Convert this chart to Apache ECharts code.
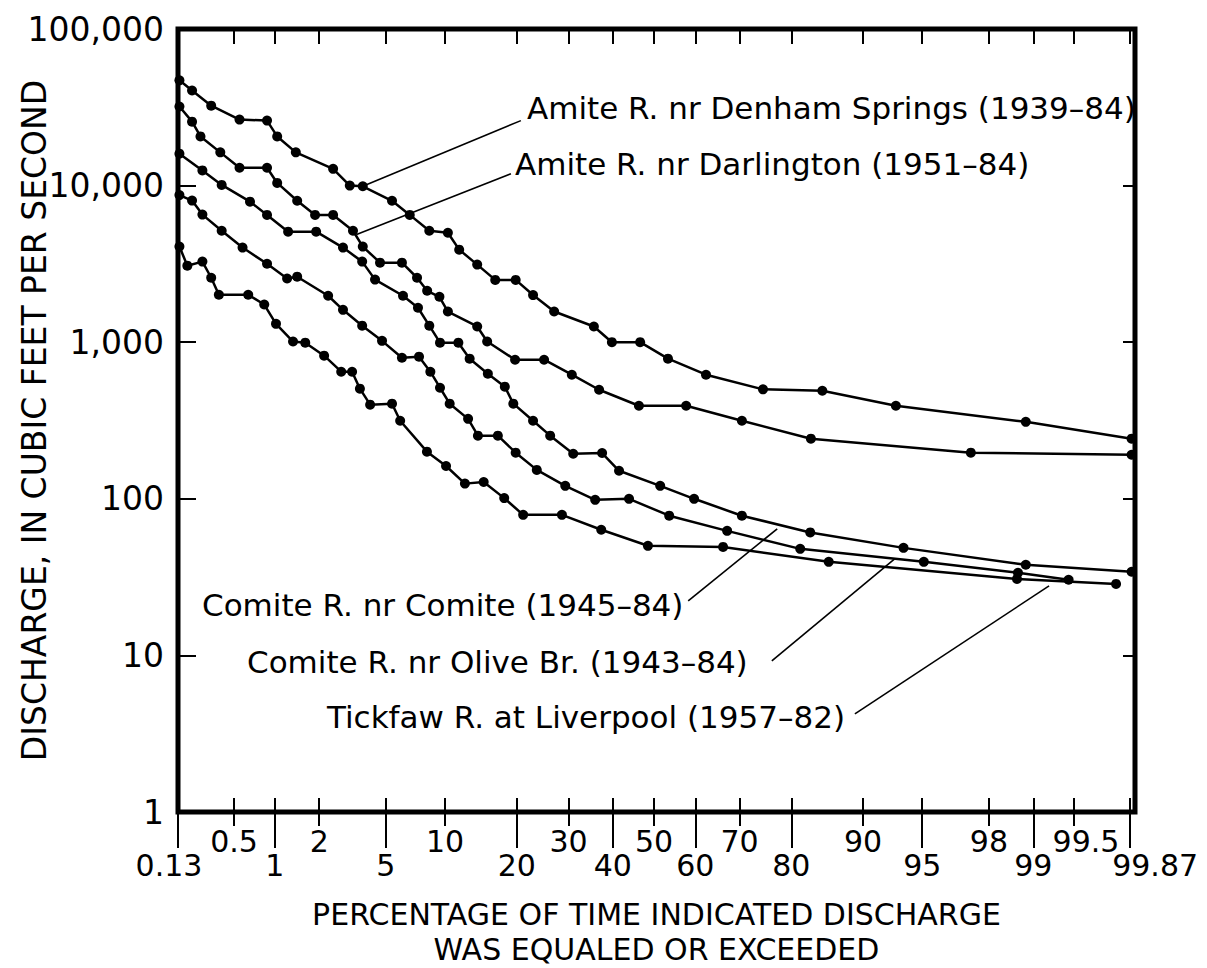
<!DOCTYPE html>
<html>
<head>
<meta charset="utf-8">
<script src="https://cdn.jsdelivr.net/npm/echarts/dist/echarts.min.js"></script>
<style>
  html, body { margin: 0; padding: 0; background: #fff; }
  #chart { width: 1207px; height: 968px; }
</style>
</head>
<body>
<div id="chart"></div>
<script>
// exceedance percentages and discharges (cfs)
const denhamPct = [0.18, 0.23, 0.33, 0.55, 0.88, 1.04, 1.4, 2.45, 3.1, 3.7, 5.4, 6.7, 8.4, 10.3, 11.6, 13.9, 16.5, 19.8, 22.9, 27.0, 35.6, 39.8, 46.6, 53.4, 62.5, 74.8, 84.9, 93.1, 98.87, 99.83];
const denhamQ = [47000, 40500, 32400, 26400, 26000, 20600, 16300, 12800, 10000, 9900, 8000, 6500, 5150, 5000, 3900, 3130, 2500, 2500, 2000, 1570, 1260, 1000, 1000, 785, 620, 500, 490, 393, 310, 242];

const darlPct = [0.18, 0.23, 0.27, 0.39, 0.55, 0.88, 1.04, 1.43, 1.88, 2.45, 3.24, 3.7, 4.64, 6.1, 7.3, 8.2, 9.4, 10.3, 13.9, 15.3, 19.7, 25.0, 30.7, 36.8, 46.3, 57.8, 70.5, 83.2, 97.4, 99.83];
const darlQ = [32000, 25600, 20600, 16300, 13000, 13000, 10400, 8000, 6500, 6500, 5150, 4080, 3220, 3220, 2580, 2130, 1950, 1570, 1260, 1010, 773, 773, 620, 497, 393, 393, 315, 242, 197, 191];

const comitePct = [0.18, 0.28, 0.40, 0.66, 0.88, 1.24, 1.91, 2.82, 3.67, 4.35, 6.18, 7.38, 8.4, 9.46, 11.5, 12.9, 15.4, 18.0, 19.4, 22.9, 26.2, 31.0, 37.5, 41.5, 51.5, 59.7, 70.5, 83.1, 93.7, 98.87, 99.83];
const comiteQ = [16000, 12500, 10100, 7900, 6500, 5080, 5080, 4020, 3270, 2510, 1980, 1660, 1275, 993, 993, 785, 629, 520, 405, 315, 253, 194, 196, 151, 121, 100, 78, 61, 48.6, 37.9, 34.2];

const olivePct = [0.18, 0.23, 0.28, 0.40, 0.58, 0.88, 1.22, 1.43, 2.28, 2.82, 3.67, 4.76, 6.1, 7.47, 8.5, 9.46, 10.5, 12.7, 14.0, 16.9, 19.8, 23.6, 29.3, 35.9, 43.9, 53.7, 67.3, 81.5, 95.1, 98.72, 99.45];
const oliveQ = [8700, 8020, 6530, 5150, 4020, 3170, 2550, 2620, 1980, 1610, 1275, 1020, 796, 808, 648, 512, 405, 324, 253, 253, 197, 153, 121, 98.5, 100, 78, 62.4, 47.9, 39.6, 33.7, 30.4];

const tickPct = [0.18, 0.21, 0.28, 0.33, 0.38, 0.64, 0.84, 1.02, 1.34, 1.62, 2.15, 2.75, 3.2, 3.56, 4.08, 5.4, 5.97, 8.18, 10.1, 12.3, 14.8, 17.9, 21.1, 28.6, 37.3, 48.5, 66.4, 85.8, 98.7, 99.77];
const tickQ = [4080, 3080, 3270, 2580, 2010, 2010, 1740, 1310, 1010, 993, 820, 648, 648, 505, 399, 405, 315, 200, 162, 125, 128, 101, 79, 79, 63.4, 50.1, 49.3, 39.6, 30.8, 28.6];

// probability-scale tick labels, in two staggered rows
const lowerTicks = ['0.13', '1', '5', '20', '40', '60', '80', '95', '99', '99.87'];
const upperTicks = ['0.5', '2', '10', '30', '50', '70', '90', '98', '99.5'];

// leader lines: [pct, cfs] on the curve -> [pct, cfs] by the label
const leaderDenham = [[3.7, 9900], [20.7, 26000]];
const leaderDarl = [[3.4, 4870], [19.0, 11900]];
const leaderComite = [[77.5, 64.3], [58.3, 22.3]];
const leaderOlive = [[93.0, 41.4], [76.5, 9.22]];
const leaderTick = [[99.23, 27.8], [89.1, 4.23]];

// inverse normal cdf (Acklam)
function probit(p) {
  const a = [-3.969683028665376e+01, 2.209460984245205e+02, -2.759285104469687e+02, 1.383577518672690e+02, -3.066479806614716e+01, 2.506628277459239e+00];
  const b = [-5.447609879822406e+01, 1.615858368580409e+02, -1.556989798598866e+02, 6.680131188771972e+01, -1.328068155288572e+01];
  const c = [-7.784894002430293e-03, -3.223964580411365e-01, -2.400758277161838e+00, -2.549732539343734e+00, 4.374664141464968e+00, 2.938163982698783e+00];
  const d = [7.784695709041462e-03, 3.224671290700398e-01, 2.445134137142996e+00, 3.754408661907416e+00];
  const pl = 0.02425;
  let q, r;
  if (p < pl) {
    q = Math.sqrt(-2 * Math.log(p));
    return (((((c[0]*q+c[1])*q+c[2])*q+c[3])*q+c[4])*q+c[5]) / ((((d[0]*q+d[1])*q+d[2])*q+d[3])*q+1);
  }
  if (p > 1 - pl) {
    q = Math.sqrt(-2 * Math.log(1 - p));
    return -(((((c[0]*q+c[1])*q+c[2])*q+c[3])*q+c[4])*q+c[5]) / ((((d[0]*q+d[1])*q+d[2])*q+d[3])*q+1);
  }
  q = p - 0.5; r = q * q;
  return (((((a[0]*r+a[1])*r+a[2])*r+a[3])*r+a[4])*r+a[5])*q / (((((b[0]*r+b[1])*r+b[2])*r+b[3])*r+b[4])*r+1);
}

const X_MIN = -2.92, X_MAX = 2.95;
// the end labels 0.13 / 99.87 sit at the frame edge
const toZ = pct => Math.max(-2.92, Math.min(2.92, probit(pct / 100)));

const zLower = lowerTicks.map(s => toZ(parseFloat(s)));
const zUpper = upperTicks.map(s => toZ(parseFloat(s)));
const zAll = zLower.concat(zUpper);

function pick(zs, names) {
  return function (v) {
    for (let i = 0; i < zs.length; i++) {
      if (Math.abs(zs[i] - v) < 1e-6) {
        const n = names[i];
        if (n === '0.13') return '{l|' + n + '}';
        if (n === '99.87') return '{r|' + n + '}';
        if (n === '99.5') return '{m|' + n + '}';
        return n;
      }
    }
    return '';
  };
}

const FONT = 'DejaVu Sans';
const TICK_FS = 30;
const labelRich = {
  l: { fontSize: TICK_FS, fontFamily: FONT, padding: [0, 18, 0, 0] },
  r: { fontSize: TICK_FS, fontFamily: FONT, padding: [0, 0, 0, 50] },
  m: { fontSize: TICK_FS, fontFamily: FONT, padding: [0, 0, 0, 24] }
};

function curve(name, pcts, qs, leader) {
  return {
    name: name,
    type: 'line',
    data: pcts.map((p, i) => [probit(p / 100), qs[i]]),
    symbol: 'circle',
    symbolSize: 10,
    showAllSymbol: true,
    itemStyle: { color: '#000' },
    lineStyle: { color: '#000', width: 2.5 },
    clip: false,
    markLine: {
      silent: true,
      symbol: 'none',
      label: { show: false },
      lineStyle: { color: '#000', width: 1.6, type: 'solid' },
      data: [[
        { coord: [probit(leader[0][0] / 100), leader[0][1]] },
        { coord: [probit(leader[1][0] / 100), leader[1][1]] }
      ]]
    }
  };
}

const tickLine = { color: '#000', width: 2 };
const baseX = { type: 'value', min: X_MIN, max: X_MAX, axisLine: { show: false, onZero: false }, splitLine: { show: false } };

const option = {
  animation: false,
  backgroundColor: '#fff',
  textStyle: { fontFamily: FONT, color: '#000' },
  grid: { left: 178, right: 72, top: 29, bottom: 156, show: true, borderColor: '#000', borderWidth: 5, outerBoundsMode: 'none' },
  xAxis: [
    Object.assign({}, baseX, {
      position: 'bottom',
      axisTick: { customValues: zLower, length: 36, lineStyle: tickLine },
      axisLabel: { customValues: zLower, formatter: pick(zLower, lowerTicks), margin: 38, fontSize: TICK_FS, color: '#000', rich: labelRich },
      name: 'PERCENTAGE OF TIME INDICATED DISCHARGE\nWAS EQUALED OR EXCEEDED',
      nameLocation: 'middle',
      nameGap: 85,
      nameMoveOverlap: false,
      nameTextStyle: { fontSize: 30, lineHeight: 35, color: '#000', fontFamily: FONT }
    }),
    Object.assign({}, baseX, {
      position: 'bottom',
      axisTick: { customValues: zUpper, length: 14, lineStyle: tickLine },
      axisLabel: { customValues: zUpper, formatter: pick(zUpper, upperTicks), margin: 14, fontSize: TICK_FS, color: '#000', rich: labelRich }
    }),
    Object.assign({}, baseX, {
      position: 'bottom',
      axisTick: { customValues: zAll, inside: true, length: 14, lineStyle: tickLine },
      axisLabel: { show: false }
    }),
    Object.assign({}, baseX, {
      position: 'top',
      axisTick: { customValues: zAll, inside: true, length: 15, lineStyle: tickLine },
      axisLabel: { show: false }
    })
  ],
  yAxis: [
    {
      type: 'log', logBase: 10, min: 1, max: 100000, position: 'left',
      axisLine: { show: false, onZero: false },
      splitLine: { show: false },
      minorTick: { show: false },
      axisTick: { inside: true, length: 18, lineStyle: tickLine },
      axisLabel: {
        margin: 14, fontSize: 33, color: '#000',
        formatter: v => Math.round(v).toLocaleString('en-US')
      },
      name: 'DISCHARGE, IN CUBIC FEET PER SECOND',
      nameLocation: 'middle',
      nameRotate: 90,
      nameGap: 127,
      nameMoveOverlap: false,
      nameTextStyle: { fontSize: 33, color: '#000', fontFamily: FONT }
    },
    {
      type: 'log', logBase: 10, min: 1, max: 100000, position: 'right',
      axisLine: { show: false, onZero: false },
      splitLine: { show: false },
      axisTick: { inside: true, length: 12, lineStyle: tickLine },
      axisLabel: { show: false }
    }
  ],
  series: [
    curve('Amite R. nr Denham Springs (1939–84)', denhamPct, denhamQ, leaderDenham),
    curve('Amite R. nr Darlington (1951–84)', darlPct, darlQ, leaderDarl),
    curve('Comite R. nr Comite (1945–84)', comitePct, comiteQ, leaderComite),
    curve('Comite R. nr Olive Br. (1943–84)', olivePct, oliveQ, leaderOlive),
    curve('Tickfaw R. at Liverpool (1957–82)', tickPct, tickQ, leaderTick)
  ],
  graphic: [
    { type: 'text', x: 527, y: 108, style: { text: 'Amite R. nr Denham Springs (1939–84)', fontSize: 31, fontFamily: FONT, fill: '#000', verticalAlign: 'middle' } },
    { type: 'text', x: 515, y: 164, style: { text: 'Amite R. nr Darlington (1951–84)', fontSize: 31, fontFamily: FONT, fill: '#000', verticalAlign: 'middle' } },
    { type: 'text', x: 202, y: 605, style: { text: 'Comite R. nr Comite (1945–84)', fontSize: 31, fontFamily: FONT, fill: '#000', verticalAlign: 'middle' } },
    { type: 'text', x: 247, y: 662, style: { text: 'Comite R. nr Olive Br. (1943–84)', fontSize: 31, fontFamily: FONT, fill: '#000', verticalAlign: 'middle' } },
    { type: 'text', x: 327, y: 717, style: { text: 'Tickfaw R. at Liverpool (1957–82)', fontSize: 31, fontFamily: FONT, fill: '#000', verticalAlign: 'middle' } }
  ]
};

const chart = echarts.init(document.getElementById('chart'), null, { renderer: 'svg' });
chart.setOption(option);
</script>
</body>
</html>
